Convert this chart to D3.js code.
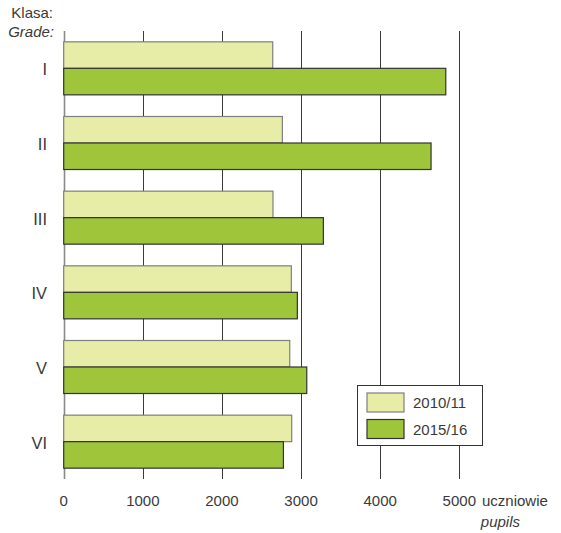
<!DOCTYPE html>
<html>
<head>
<meta charset="utf-8">
<script src="https://cdn.jsdelivr.net/npm/d3@7"></script>
<style>
  body { margin: 0; background: #fff; }
  svg text { font-family: "Liberation Sans", Arial, sans-serif; fill: #3a3a3a; }
</style>
</head>
<body>
<div id="chart"></div>
<script>
// data
var grades = ["I", "II", "III", "IV", "V", "VI"];
var series = ["2010/11", "2015/16"];
var pupils2010 = [2642, 2764, 2645, 2877, 2857, 2882];
var pupils2015 = [4829, 4643, 3282, 2953, 3072, 2777];
var ticks = [0, 1000, 2000, 3000, 4000, 5000];

var colors = { "2010/11": "#e7eda7", "2015/16": "#9fc63a" };
var strokes = { "2010/11": "#7f7f7f", "2015/16": "#333333" };

const width = 561, height = 533;
const svg = d3.select("#chart").append("svg")
    .attr("width", width)
    .attr("height", height);

const xScale = d3.scaleLinear().domain([0, 5000]).range([63.7, 459.3]);
const yScale = d3.scaleBand().domain(grades).range([31, 479])
    .paddingInner(0.29).paddingOuter(0.145);
const ySub = d3.scaleBand().domain(series).range([0, yScale.bandwidth()]);

// Grid lines
svg.append("g")
    .selectAll("line")
    .data(ticks)
    .enter().append("line")
    .attr("x1", d => Math.round(xScale(d)) + 0.5)
    .attr("x2", d => Math.round(xScale(d)) + 0.5)
    .attr("y1", 31)
    .attr("y2", 479)
    .attr("stroke", d => d === 0 ? "#8a8a8a" : "#3a3a3a")
    .attr("stroke-width", d => d === 0 ? 1.6 : 1);

// Bars
var rows = grades.map((g, i) => ({ grade: g, values: [
    { s: series[0], v: pupils2010[i] },
    { s: series[1], v: pupils2015[i] }
]}));

const groups = svg.append("g").selectAll("g")
    .data(rows)
    .enter().append("g")
    .attr("transform", d => `translate(0,${yScale(d.grade)})`);

groups.selectAll("rect")
    .data(d => d.values)
    .enter().append("rect")
    .attr("x", xScale(0))
    .attr("y", d => ySub(d.s))
    .attr("width", d => xScale(d.v) - xScale(0))
    .attr("height", ySub.bandwidth())
    .attr("fill", d => colors[d.s])
    .attr("stroke", d => strokes[d.s])
    .attr("stroke-width", 1.2);

// category labels
svg.append("g").selectAll("text")
    .data(grades)
    .enter().append("text")
    .attr("x", 47)
    .attr("y", d => yScale(d) + yScale.bandwidth() / 2 + 7)
    .attr("text-anchor", "end")
    .style("font-size", "16.5px")
    .text(d => d);

// tick labels
svg.append("g").selectAll("text")
    .data(ticks)
    .enter().append("text")
    .attr("x", d => xScale(d))
    .attr("y", 506)
    .attr("text-anchor", "middle")
    .style("font-size", "15px")
    .text(d => d);

// axis titles
svg.append("text").attr("x", 482).attr("y", 506)
    .style("font-size", "15px").text("uczniowie");
svg.append("text").attr("x", 520).attr("y", 527)
    .attr("text-anchor", "end")
    .style("font-size", "15px").style("font-style", "italic").text("pupils");

svg.append("text").attr("x", 53).attr("y", 18)
    .attr("text-anchor", "end")
    .style("font-size", "15px").text("Klasa:");
svg.append("text").attr("x", 54).attr("y", 37)
    .attr("text-anchor", "end")
    .style("font-size", "15px").style("font-style", "italic").text("Grade:");

// legend
const legend = svg.append("g");
legend.append("rect")
    .attr("x", 357.5).attr("y", 385.5)
    .attr("width", 125).attr("height", 60)
    .attr("fill", "#fff")
    .attr("stroke", "#333")
    .attr("stroke-width", 1);

const items = legend.selectAll("g.item")
    .data(series)
    .enter().append("g")
    .attr("class", "item")
    .attr("transform", (d, i) => `translate(0,${i * 26.5})`);

items.append("rect")
    .attr("x", 367).attr("y", 393)
    .attr("width", 37).attr("height", 19)
    .attr("fill", d => colors[d])
    .attr("stroke", d => strokes[d])
    .attr("stroke-width", 1.2);

items.append("text")
    .attr("x", 413).attr("y", 408)
    .style("font-size", "15px")
    .text(d => d);
</script>
</body>
</html>
